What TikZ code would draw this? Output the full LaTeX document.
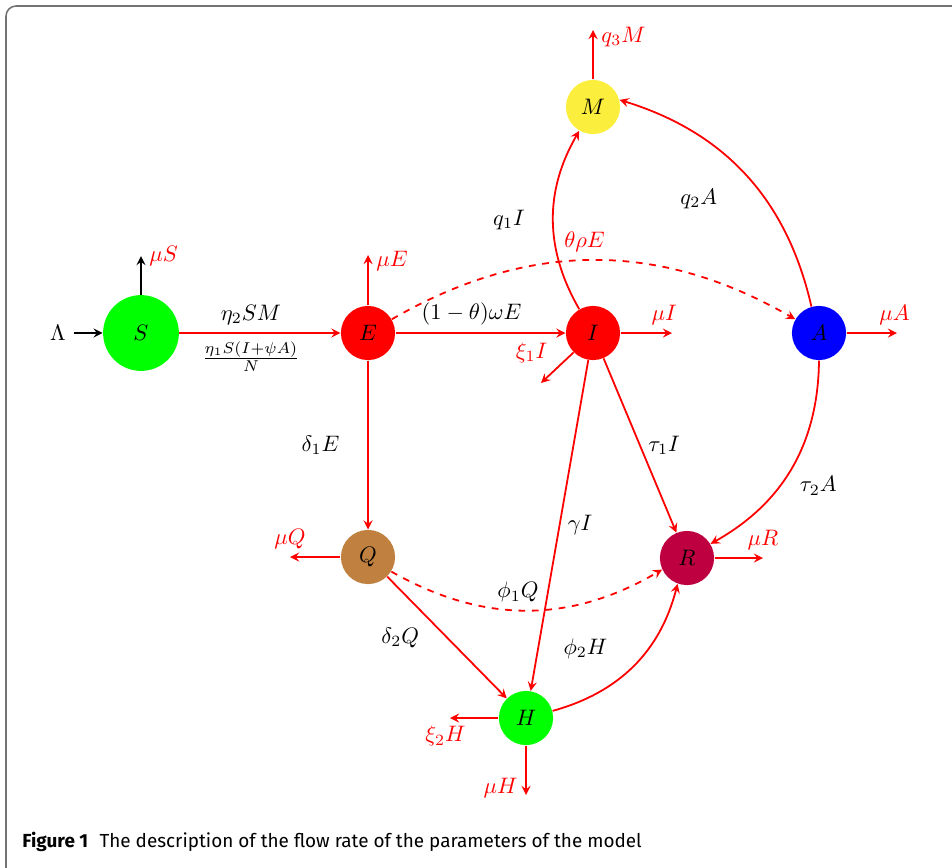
\documentclass[tikz,border=0pt]{standalone}
\usepackage{fontspec}
\newfontfamily\capfont{Fira Sans}
\definecolor{myyellow}{RGB}{252,238,60}
\tikzset{
	comp/.style={circle, minimum size=0.85cm, inner sep=0pt},
	flow/.style={->, thick, red},
	lbl/.style={text=black}
}
\begin{document}
\begin{tikzpicture}[>=stealth, x=0.0157cm, y=0.0157cm]
	% Khung hình
	\useasboundingbox (0,0) rectangle (952,-867);
	\clip (0,0) rectangle (952,-867);
	\draw[black!55, line width=0.7pt, rounded corners=4.5pt] (990,-6) -- (6,-6) -- (6,-880) -- (990,-880);
	
	% Các ngăn của mô hình
	\node[comp, minimum size=1.19cm, fill=green] (S) at (141,-333) {$S$};
	\node[comp, fill=red] (E) at (368,-333) {$E$};
	\node[comp, fill=red] (I) at (593,-333) {$I$};
	\node[comp, fill=blue] (A) at (819,-333) {$A$};
	\node[comp, fill=myyellow] (M) at (593,-107) {$M$};
	\node[comp, fill=brown] (Q) at (368,-557) {$Q$};
	\node[comp, fill=purple] (R) at (687,-558) {$R$};
	\node[comp, fill=green] (H) at (526,-718) {$H$};
	
	% Điểm cuối của các mũi tên ra ngoài
	\coordinate (muSend) at (141,-256);
	\coordinate (muEend) at (368,-255);
	\coordinate (muIend) at (672,-333);
	\coordinate (muAend) at (897,-333);
	\coordinate (q3Mend) at (593,-30);
	\coordinate (xi1end) at (541,-383);
	\coordinate (muQend) at (290,-557);
	\coordinate (muRend) at (763,-558);
	\coordinate (xi2end) at (450,-718);
	\coordinate (muHend) at (526,-795);
	
	% Nguồn vào và chết tự nhiên của S
	\node (lam) at (58,-333) {$\Lambda$};
	\draw[->, thick] (lam) -- (S);
	\draw[->, thick] (S) -- (muSend) node[right, red] {$\mu S$};
	
	% S sang E
	\draw[flow] (S) -- (E)
	node[midway, above, lbl, xshift=-4pt] {$\eta_2SM$}
	node[midway, below, lbl, xshift=-4pt] {$\frac{\eta_1S(I+\psi A)}{N}$};
	
	% Các dòng ra khỏi E
	\draw[flow] (E) -- (muEend) node[right, yshift=-2.5pt] {$\mu E$};
	\draw[flow] (E) -- (I) node[midway, above, lbl, xshift=-4pt] {$(1-\theta)\omega E$};
	\draw[flow, dashed] (E.30) to[bend left=30] node[midway, above, xshift=-4pt] {$\theta\rho E$} (A.150);
	\draw[flow] (E) -- (Q) node[midway, left=9pt, lbl] {$\delta_1E$};
	
	% Các dòng ra khỏi I
	\draw[flow] (I) -- (muIend) node[pos=0.85, above] {$\mu I$};
	\draw[flow] (I.225) -- (xi1end) node[pos=0, left=8pt] {$\xi_1I$};
	\draw[flow] (I.120) to[bend left=30] node[midway, left=9pt, lbl] {$q_1I$} (M.240);
	\draw[flow] (I) -- (H) node[midway, right, lbl] {$\gamma I$};
	\draw[flow] (I) -- (R) node[midway, right, lbl] {$\tau_1I$};
	
	% Các dòng ra khỏi A
	\draw[flow] (A) -- (muAend) node[pos=0.95, above] {$\mu A$};
	\draw[flow] (A.106) to[bend right=30] node[midway, left=9pt, yshift=-10.5pt, lbl] {$q_2A$} (M.15);
	\draw[flow] (A.south) to[bend left=30] node[midway, below right, lbl] {$\tau_2A$} (R.31);
	
	% M
	\draw[flow] (M) -- (q3Mend) node[right, yshift=-3pt] {$q_3M$};
	
	% Các dòng ra khỏi Q
	\draw[flow] (Q) -- (muQend) node[above] {$\mu Q$};
	\draw[flow, dashed] (Q.-32) to[bend right=30] node[midway, above, xshift=-4pt, lbl] {$\phi_1Q$} (R.205);
	\draw[flow] (Q) -- (H) node[midway, left=8.7pt, lbl] {$\delta_2Q$};
	
	% Các dòng ra khỏi H và R
	\draw[flow] (H) -- (xi2end) node[below, xshift=-2pt] {$\xi_2H$};
	\draw[flow] (H) -- (muHend) node[left, yshift=3pt] {$\mu H$};
	\draw[flow] (H.15) to[bend right=30] node[midway, left=8pt, yshift=7.5pt, lbl] {$\phi_2H$} (R.250);
	\draw[flow] (R) -- (muRend) node[above] {$\mu R$};
	
	% Chú thích
	\node[anchor=west, inner sep=0pt] (cap) at (22,-842)
	{\capfont\fontsize{8.45}{10}\selectfont\textbf{Figure 1}\hspace{0.6em}The description of the flow rate of the parameters of the model};
\end{tikzpicture}
\end{document}
